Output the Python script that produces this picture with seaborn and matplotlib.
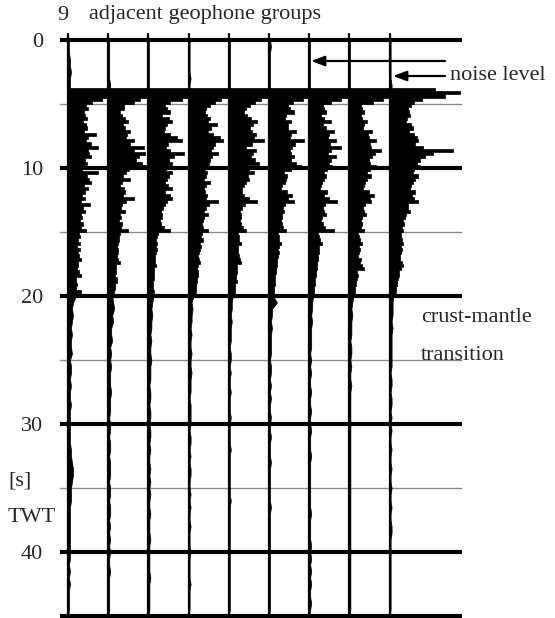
import numpy as np
import pandas as pd
import seaborn as sns
from matplotlib import pyplot as plt

# amplitudes are read in pixels of the original figure (40.2 px between groups)
spacing = 40.2
n_groups = 9

t_pre = np.arange(0.0, 3.75, 0.5)      # 0 .. 3.5 s
t_coda = np.arange(3.75, 20.0, 0.25)   # 3.75 .. 19.75 s
t_tail = np.arange(20.0, 45.0, 0.5)    # 20 .. 44.5 s

pre_amp = [
    [1, 1, 1, 2, 2, 3, 2, 2],
    [1, 1, 1, 1, 1, 1, 1, 2],
    [1, 1, 1, 1, 1, 1, 1, 1],
    [1, 1, 1, 1, 1, 1, 2, 1],
    [1, 1, 1, 1, 1, 1, 1, 1],
    [1, 2, 1, 1, 1, 1, 1, 1],
    [1, 1, 1, 1, 1, 1, 1, 1],
    [1, 1, 1, 1, 1, 1, 1, 1],
    [1, 1, 1, 1, 1, 1, 1, 2],
]

coda_g1 = [40, 40, 40, 34, 24, 18, 20, 16, 17, 19, 15, 18, 19, 16, 28, 20, 18, 23, 30, 20,
           21, 23, 17, 19, 15, 14, 30, 19, 21, 23, 16, 20, 17, 14, 17, 13, 22, 15, 17, 13,
           14, 12, 15, 13, 18, 11, 12, 10, 12, 9, 12, 10, 11, 13, 10, 10, 9, 11, 13, 8,
           8, 9, 8, 13, 8]
coda_g2 = [40, 40, 40, 32, 26, 16, 16, 12, 14, 17, 20, 15, 17, 22, 19, 18, 26, 22, 36, 26,
           37, 31, 28, 34, 38, 21, 18, 15, 22, 14, 12, 16, 17, 15, 26, 18, 14, 13, 17, 12,
           13, 11, 14, 13, 20, 12, 11, 11, 10, 9, 10, 10, 9, 10, 12, 8, 8, 8, 7, 9,
           9, 7, 7, 6, 6]
coda_g3 = [40, 40, 40, 34, 22, 17, 19, 22, 14, 21, 24, 19, 17, 16, 22, 29, 34, 20, 18, 22,
           36, 26, 21, 24, 20, 18, 24, 21, 19, 17, 20, 24, 17, 22, 24, 19, 17, 15, 13, 14,
           14, 12, 13, 16, 22, 10, 9, 8, 9, 8, 9, 8, 7, 7, 7, 8, 6, 6, 6, 6,
           5, 5, 5, 6, 4]
coda_g4 = [40, 40, 40, 32, 26, 21, 17, 16, 18, 21, 19, 28, 22, 19, 24, 31, 34, 26, 24, 22,
           29, 23, 21, 20, 19, 16, 18, 17, 15, 21, 17, 15, 16, 18, 17, 29, 20, 17, 15, 19,
           15, 14, 13, 14, 19, 13, 12, 14, 11, 12, 11, 10, 9, 10, 11, 9, 8, 9, 9, 8,
           8, 7, 7, 7, 6]
coda_g5 = [40, 40, 40, 32, 26, 21, 17, 15, 18, 22, 28, 24, 21, 23, 27, 25, 35, 23, 17, 27,
           24, 22, 26, 30, 18, 20, 25, 19, 20, 17, 15, 13, 13, 15, 20, 28, 16, 13, 11, 12,
           12, 11, 12, 14, 17, 9, 10, 10, 12, 9, 9, 9, 10, 11, 12, 8, 8, 8, 7, 7,
           8, 6, 6, 6, 5]
coda_g6 = [40, 40, 40, 34, 24, 19, 21, 25, 17, 16, 22, 19, 19, 27, 22, 21, 35, 26, 23, 21,
           22, 25, 22, 27, 32, 22, 15, 18, 17, 16, 13, 12, 18, 23, 19, 25, 16, 14, 15, 13,
           13, 12, 13, 14, 17, 9, 10, 10, 12, 10, 9, 10, 9, 8, 8, 8, 7, 7, 6, 6,
           6, 6, 5, 5, 5]
coda_g7 = [40, 40, 40, 32, 22, 14, 15, 17, 12, 15, 22, 14, 17, 25, 20, 19, 27, 21, 32, 22,
           19, 27, 22, 20, 23, 18, 15, 17, 15, 13, 12, 11, 18, 15, 20, 28, 16, 14, 15, 17,
           13, 12, 14, 16, 25, 9, 10, 11, 13, 10, 10, 10, 9, 9, 8, 8, 8, 7, 7, 6,
           6, 6, 5, 5, 5]
coda_g8 = [40, 40, 40, 34, 24, 12, 13, 15, 12, 13, 18, 15, 14, 23, 19, 20, 27, 21, 22, 32,
           26, 23, 20, 21, 27, 21, 18, 22, 18, 16, 15, 14, 20, 25, 21, 22, 16, 14, 15, 17,
           13, 12, 13, 12, 15, 9, 10, 11, 13, 10, 11, 10, 9, 12, 11, 13, 15, 8, 9, 8,
           7, 7, 6, 6, 5]
coda_g9 = [45, 70, 55, 32, 24, 21, 18, 19, 20, 17, 16, 21, 23, 19, 24, 27, 28, 25, 33, 63,
           43, 35, 30, 27, 30, 24, 23, 28, 25, 23, 21, 20, 25, 22, 24, 28, 18, 18, 20, 16,
           15, 13, 14, 12, 13, 11, 11, 12, 13, 11, 12, 11, 10, 10, 12, 13, 11, 9, 9, 8,
           7, 7, 6, 6, 5]

tail_g1 = [8, 5, 4, 5, 4, 3, 4, 3, 3, 4, 2, 3, 3, 2, 3, 2, 2, 3, 2, 2, 2, 2, 2, 2, 3,
           3, 4, 5, 5, 4, 3, 3, 3, 2, 2, 2, 2, 2, 2, 2, 2, 2, 1, 2, 1, 2, 1, 1, 1, 1]
tail_g2 = [4, 5, 6, 4, 5, 3, 3, 4, 2, 3, 2, 3, 2, 2, 2, 3, 2, 2, 2, 1, 2, 2, 1, 2, 2,
           1, 2, 2, 2, 1, 2, 2, 1, 2, 2, 1, 2, 1, 2, 1, 2, 1, 1, 2, 1, 1, 1, 1, 1, 1]
tail_g3 = [5, 4, 3, 4, 3, 3, 2, 3, 2, 2, 3, 2, 2, 2, 1, 2, 2, 1, 2, 2, 1, 2, 2, 1, 2,
           1, 1, 2, 1, 2, 1, 2, 1, 1, 2, 1, 1, 1, 2, 1, 1, 1, 1, 1, 2, 1, 1, 1, 1, 1]
tail_g4 = [5, 3, 4, 3, 3, 2, 3, 2, 2, 3, 2, 2, 3, 2, 2, 2, 1, 2, 2, 2, 2, 1, 2, 2, 1,
           2, 1, 2, 2, 1, 1, 2, 1, 2, 1, 1, 2, 1, 1, 1, 2, 1, 1, 1, 1, 2, 1, 1, 1, 1]
tail_g5 = [4, 3, 3, 2, 3, 2, 2, 2, 1, 2, 2, 1, 2, 1, 1, 2, 1, 1, 1, 2, 1, 1, 1, 1, 2,
           1, 1, 1, 1, 1, 1, 1, 2, 1, 1, 1, 1, 1, 1, 1, 1, 1, 1, 1, 1, 1, 1, 1, 1, 1]
tail_g6 = [4, 8, 3, 3, 2, 3, 2, 2, 2, 2, 1, 2, 2, 1, 2, 1, 2, 1, 1, 2, 1, 1, 2, 1, 1,
           1, 2, 1, 1, 1, 1, 1, 1, 2, 1, 1, 1, 1, 1, 1, 1, 1, 1, 1, 1, 1, 1, 1, 1, 1]
tail_g7 = [4, 3, 3, 2, 3, 2, 2, 2, 2, 1, 2, 1, 2, 1, 1, 2, 1, 1, 2, 1, 1, 2, 1, 1, 1,
           2, 1, 1, 1, 1, 1, 1, 1, 1, 2, 1, 1, 1, 1, 2, 1, 2, 1, 2, 1, 2, 1, 1, 2, 1]
tail_g8 = [4, 3, 2, 3, 2, 2, 2, 1, 2, 2, 1, 2, 1, 1, 2, 1, 1, 1, 1, 1, 1, 1, 1, 1, 1,
           1, 1, 1, 1, 1, 1, 1, 1, 1, 1, 1, 1, 1, 1, 1, 1, 1, 1, 1, 1, 1, 1, 1, 1, 1]
tail_g9 = [4, 3, 3, 3, 2, 3, 2, 2, 2, 2, 2, 2, 1, 2, 2, 1, 2, 2, 1, 2, 1, 2, 1, 1, 2,
           1, 1, 2, 1, 1, 2, 1, 1, 2, 1, 1, 2, 2, 1, 1, 1, 1, 1, 1, 1, 1, 1, 1, 1, 1]

codas = [coda_g1, coda_g2, coda_g3, coda_g4, coda_g5, coda_g6, coda_g7, coda_g8, coda_g9]
tails = [tail_g1, tail_g2, tail_g3, tail_g4, tail_g5, tail_g6, tail_g7, tail_g8, tail_g9]

major_times = [0, 10, 20, 30, 40, 45]
minor_times = [5, 15, 25, 35]
tick_labels = ['0', '10', '20', '30', '40']

sns.set_style('white')
plt.rcParams['font.family'] = ['Liberation Serif', 'DejaVu Serif']

W, H = 555, 618
fig = plt.figure(figsize=(W / 100, H / 100), dpi=100)
ax = fig.add_axes([60 / W, 1 - 617.5 / H, 402 / W, (617.5 - 33) / H])

# long-form table: quiet parts (before onset, after 20 s) and the strong coda
frames = []
for i in range(n_groups):
    parts = [
        ('pre', np.append(t_pre, 3.75), np.append(pre_amp[i], pre_amp[i][-1])),
        ('coda', np.append(t_coda, 20.0), np.append(codas[i], codas[i][-1])),
        ('tail', np.append(t_tail, 45.0), np.append(tails[i], 0)),
    ]
    for part, t, a in parts:
        frames.append(pd.DataFrame({'group': i, 'part': part, 't': t,
                                    'x': i + a / spacing, 'base': i}))
traces = pd.concat(frames, ignore_index=True)

for ht in major_times:
    ax.axhline(ht, color='black', lw=3.0, zorder=1)
for ht in minor_times:
    ax.axhline(ht, color='#8c8c8c', lw=1.0, zorder=1)

# variable-area fill to the right of each baseline
for (i, part), d in traces.groupby(['group', 'part']):
    step = 'post' if part == 'coda' else None
    ax.fill_betweenx(d['t'], d['base'], d['x'], step=step, color='black',
                     lw=0.5, zorder=2)

base = pd.DataFrame({'group': np.repeat(np.arange(n_groups), 2),
                     't': np.tile([-0.45, 45.2], n_groups)})
base['x'] = base['group']
sns.lineplot(data=base, x='x', y='t', units='group', estimator=None, orient='y',
             color='black', lw=1.6, ax=ax, zorder=3)

ax.set_xlim((60 - 68) / spacing, (462 - 68) / spacing)
ax.set_ylim(45.117, -0.547)
ax.set_xticks([])
ax.set_yticks([0, 10, 20, 30, 40])
ax.set_yticklabels(tick_labels, fontsize=16)
ax.tick_params(axis='y', length=0, pad=12)
ax.set(xlabel=None, ylabel=None)
for s in ax.spines.values():
    s.set_visible(False)


def fx(px):
    return px / W


def fy(py):
    return 1 - py / H


fig.text(fx(57), fy(15), '9', fontsize=16, va='center', ha='left')
fig.text(fx(89), fy(15), 'adjacent geophone groups', fontsize=16, va='center', ha='left')
fig.text(fx(450), fy(76), 'noise level', fontsize=16, va='center', ha='left')
fig.text(fx(421), fy(317), 'crust-mantle', fontsize=16, va='center', ha='left')
fig.text(fx(421), fy(355), 'transition', fontsize=16, va='center', ha='left')
fig.text(fx(8), fy(481), '[s]', fontsize=16, va='center', ha='left')
fig.text(fx(8), fy(517), 'TWT', fontsize=16, va='center', ha='left')

arrow = dict(arrowstyle='-|>,head_length=0.8,head_width=0.3', color='black', lw=1.6,
             shrinkA=0, shrinkB=0)
ax.annotate('', xy=(fx(311), fy(61)), xytext=(fx(445), fy(61)),
            xycoords='figure fraction', textcoords='figure fraction', arrowprops=arrow)
ax.annotate('', xy=(fx(393), fy(76)), xytext=(fx(445), fy(76)),
            xycoords='figure fraction', textcoords='figure fraction', arrowprops=arrow)

fig.savefig('out.png', dpi=100)
